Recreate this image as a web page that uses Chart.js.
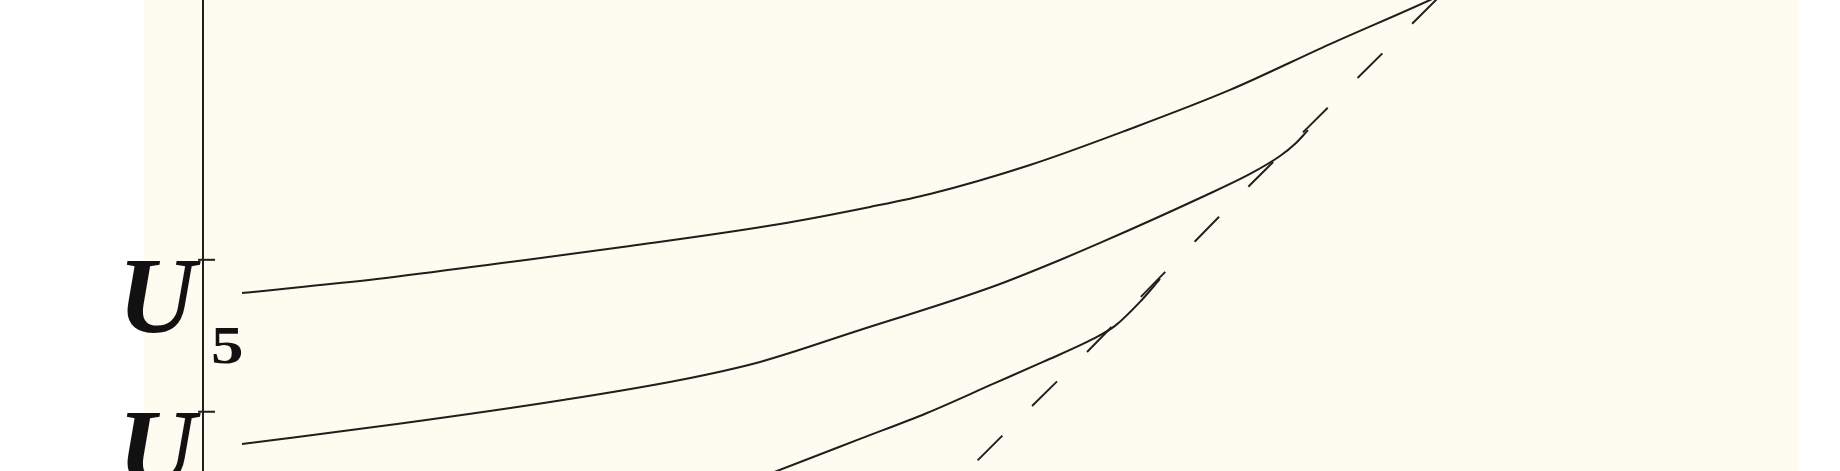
<!DOCTYPE html>
<html>
<head>
<meta charset="utf-8">
<script src="https://cdn.jsdelivr.net/npm/chart.js@4.4.0/dist/chart.umd.min.js"></script>
<style>
html, body { margin: 0; padding: 0; background: #fff; overflow: hidden; }
</style>
</head>
<body>
<canvas id="myChart" width="1840" height="471"></canvas>
<script>
// 1) data
var yTicks = [4, 5];
var yTickNames = ["U", "U"];
var yTickSubs = ["4", "5"];

var u5X = [0.39, 1.74, 3.07, 4.27, 5.77, 6.67, 7.27, 8.27, 9.27, 10.27, 11.27, 12.27, 12.67];
var u5Y = [4.782, 4.874, 4.986, 5.091, 5.236, 5.348, 5.433, 5.624, 5.861, 6.118, 6.420, 6.710, 6.835];

var u4X = [0.39, 1.94, 3.60, 4.77, 5.57, 6.57, 7.57, 7.97, 8.57, 8.97, 9.97, 10.47, 10.77, 10.93, 11.05];
var u4Y = [3.788, 3.919, 4.077, 4.209, 4.328, 4.538, 4.749, 4.841, 4.999, 5.111, 5.407, 5.565, 5.683, 5.769, 5.854];

var u3X = [5.37, 5.74, 6.57, 7.24, 7.90, 8.40, 8.90, 9.12, 9.37, 9.57];
var u3Y = [3.518, 3.610, 3.821, 3.992, 4.183, 4.328, 4.479, 4.565, 4.723, 4.874];

var limX = [7.52, 8.29, 8.84, 10.47, 12.47];
var limY = [3.531, 4.038, 4.393, 5.492, 6.802];

function toPoints(xs, ys) {
    var pts = [];
    for (var i = 0; i < xs.length; ++i) {
	pts.push({ x: xs[i], y: ys[i] });
    }
    return pts;
}

// 2) cream paper behind the plot
var paperPlugin = {
    id: "paper",
    beforeDraw: function(chart) {
	var ctx = chart.ctx;
	ctx.save();
	ctx.fillStyle = "#fefcf0";
	ctx.fillRect(144, 0, 1655, chart.height);
	ctx.restore();
    }
};

// 3) inner tick marks and U labels with subscripts (the digit is drawn wide like the original)
var labelPlugin = {
    id: "ulabels",
    afterDraw: function(chart) {
	var ctx = chart.ctx;
	var ys = chart.scales.y;
	var ax = chart.chartArea.left;
	ctx.save();
	for (var i = 0; i < yTicks.length; ++i) {
	    var py = ys.getPixelForValue(yTicks[i]);
	    ctx.strokeStyle = "#1e1e1e";
	    ctx.lineWidth = 2;
	    ctx.beginPath();
	    ctx.moveTo(ax - 5, py);
	    ctx.lineTo(ax + 12, py);
	    ctx.stroke();

	    ctx.fillStyle = "#111";
	    ctx.textAlign = "left";
	    ctx.textBaseline = "alphabetic";
	    ctx.font = "italic bold 108px 'Liberation Serif', 'Times New Roman', serif";
	    ctx.fillText(yTickNames[i], ax - 85, py + 72);

	    ctx.save();
	    ctx.translate(ax + 8, py + 103);
	    ctx.scale(1.25, 1);
	    ctx.font = "bold 52px 'Liberation Serif', 'Times New Roman', serif";
	    ctx.fillText(yTickSubs[i], 0, 0);
	    ctx.restore();
	}
	ctx.restore();
    }
};

function drawCurves() {
    var ctx = document.getElementById("myChart").getContext("2d");
    var curve = { borderColor: "#1e1e1e", borderWidth: 2, pointRadius: 0, fill: false, cubicInterpolationMode: "monotone" };
    var myChart = new Chart(ctx, {
	type: "line",
	data: {
	    datasets: [
		Object.assign({ label: "U5", data: toPoints(u5X, u5Y) }, curve),
		Object.assign({ label: "U4", data: toPoints(u4X, u4Y) }, curve),
		Object.assign({ label: "U3", data: toPoints(u3X, u3Y) }, curve),
		{ label: "limit", data: toPoints(limX, limY), borderColor: "#222", borderWidth: 2,
		  borderDash: [35, 42], borderDashOffset: 45, pointRadius: 0, tension: 0, fill: false }
	    ]
	},
	options: {
	    responsive: false,
	    animation: false,
	    devicePixelRatio: 1,
	    events: [],
	    layout: { padding: { left: 203, right: 37, top: 0, bottom: 0 } },
	    plugins: { legend: { display: false }, tooltip: { enabled: false } },
	    scales: {
		x: { type: "linear", min: 0, max: 16, display: false },
		y: {
		    type: "linear", min: 3.61, max: 6.71, position: "left",
		    ticks: { display: false },
		    grid: { display: false, drawTicks: false },
		    border: { display: true, color: "#1e1e1e", width: 2 },
		    afterBuildTicks: function(s) { s.ticks = yTicks.map(function(v) { return { value: v }; }); },
		    afterFit: function(s) { s.width = 0; }
		}
	    }
	},
	plugins: [paperPlugin, labelPlugin]
    });
}

// wait for the serif faces, then draw
Promise.all([
    document.fonts.load("italic bold 108px 'Liberation Serif'"),
    document.fonts.load("bold 52px 'Liberation Serif'")
]).then(drawCurves, drawCurves);
</script>
</body>
</html>
